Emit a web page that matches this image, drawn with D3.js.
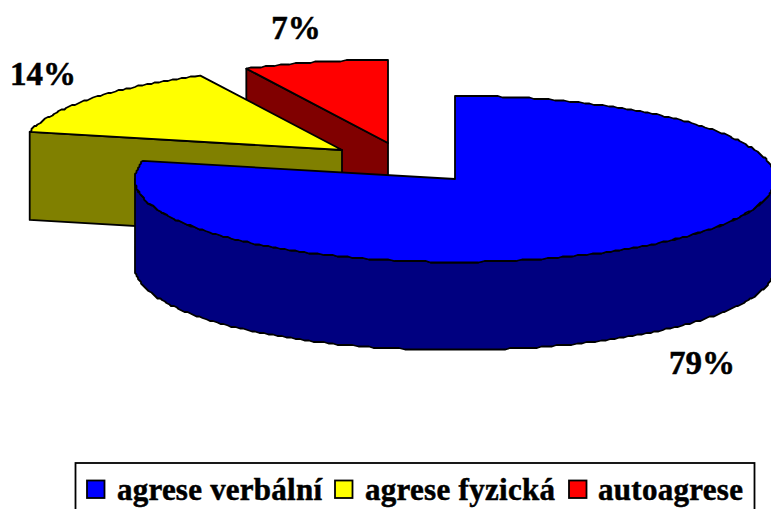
<!DOCTYPE html>
<html>
<head>
<meta charset="utf-8">
<script src="https://cdn.jsdelivr.net/npm/d3@7/dist/d3.min.js"></script>
<style>
html,body{margin:0;padding:0;background:#fff;overflow:hidden}
svg{display:block}
text{font-family:"Liberation Serif","Times New Roman",serif;font-weight:bold;fill:#000;stroke:#000;stroke-width:.5px}
</style>
</head>
<body>
<div id="chart"></div>
<script>
const categories = ["agrese verbální", "agrese fyzická", "autoagrese"];
const values = [78.5, 14.2, 7.3];
const valueLabels = ["79%", "14%", "7%"];
const topColors = ["#0000ff", "#ffff00", "#ff0000"];
const wallColors = ["#000080", "#808000", "#800000"];

const W = 771, H = 509;
const rx = 320, ry = 83, depth = 88;
// centre of each exploded slice
const centres = [[455, 179], [342, 150], [388, 143]];
const labelPos = [[702, 374], [43, 85], [296, 39]];
const swatchX = [87, 335, 569];
const textX = [117, 365, 598];
const textW = [205, 190, 145];
const grid = 1.5; // the reference's rims are slightly stepped

const svg = d3.select("#chart").append("svg").attr("width", W).attr("height", H);

const arcs = d3.pie().sort(null).value(d => d)(values);
const lineGen = d3.line();

function scalesFor(i) {
  const [cx, cy] = centres[i];
  return {
    x: d3.scaleLinear().domain([-1, 1]).range([cx - rx, cx + rx]),
    y: d3.scaleLinear().domain([-1, 1]).range([cy - ry, cy + ry])
  };
}
function rim(i, a0, a1, dy) {
  const s = scalesFor(i), n = Math.max(1, Math.ceil(Math.abs(a1 - a0) * 60));
  return d3.range(n + 1).map(k => {
    const a = a0 + (a1 - a0) * k / n;
    const x = s.x(Math.sin(a)), y = s.y(-Math.cos(a)) + dy;
    if (k === 0 || k === n) return [x, y];
    return [Math.round(x / grid) * grid, Math.round(y / grid) * grid];
  });
}
function drawPoly(pts, fill) {
  svg.append("path").attr("d", lineGen(pts) + "Z")
    .attr("fill", fill).attr("stroke", "#000")
    .attr("stroke-width", 1.8).attr("stroke-linejoin", "round");
}
function centre(i, dy) { return [centres[i][0], centres[i][1] + dy]; }

// red slice: wall along its left cut, then top
{
  const a = arcs[2];
  const p = rim(2, a.startAngle, a.startAngle, 0)[0];
  drawPoly([p, centre(2, 0), centre(2, depth), [p[0], p[1] + depth]], wallColors[2]);
  drawPoly([centre(2, 0), ...rim(2, a.startAngle, a.endAngle, 0)], topColors[2]);
}
// yellow slice
{
  const a = arcs[1];
  const p = rim(1, a.startAngle, a.startAngle, 0)[0];
  drawPoly([p, centre(1, 0), centre(1, depth), [p[0], p[1] + depth]], wallColors[1]);
  drawPoly([centre(1, 0), ...rim(1, a.startAngle, a.endAngle, 0)], topColors[1]);
}
// blue slice: outer wall on the visible front half, then top
{
  const a = arcs[0];
  const front = rim(0, Math.PI / 2, 3 * Math.PI / 2, 0);
  const frontLow = rim(0, 3 * Math.PI / 2, Math.PI / 2, depth);
  drawPoly([...front, ...frontLow], wallColors[0]);
  drawPoly([centre(0, 0), ...rim(0, a.startAngle, a.endAngle, 0)], topColors[0]);
}

// value labels
svg.selectAll("text.val").data(valueLabels).join("text")
  .attr("class", "val")
  .attr("x", (d, i) => labelPos[i][0])
  .attr("y", (d, i) => labelPos[i][1])
  .attr("text-anchor", "middle")
  .attr("font-size", 33)
  .text(d => d);

// legend
svg.append("rect").attr("x", 75.5).attr("y", 463).attr("width", 679).attr("height", 60)
  .attr("fill", "#fff").attr("stroke", "#000").attr("stroke-width", 1.8);
const items = svg.selectAll("g.leg").data(categories).join("g").attr("class", "leg");
items.append("rect")
  .attr("x", (d, i) => swatchX[i]).attr("y", 480.5)
  .attr("width", 17.5).attr("height", 17.5)
  .attr("fill", (d, i) => topColors[i]).attr("stroke", "#000").attr("stroke-width", 1.8);
items.append("text")
  .attr("x", (d, i) => textX[i]).attr("y", 500)
  .attr("font-size", 31)
  .attr("textLength", (d, i) => textW[i])
  .attr("lengthAdjust", "spacing")
  .text(d => d);
</script>
</body>
</html>
